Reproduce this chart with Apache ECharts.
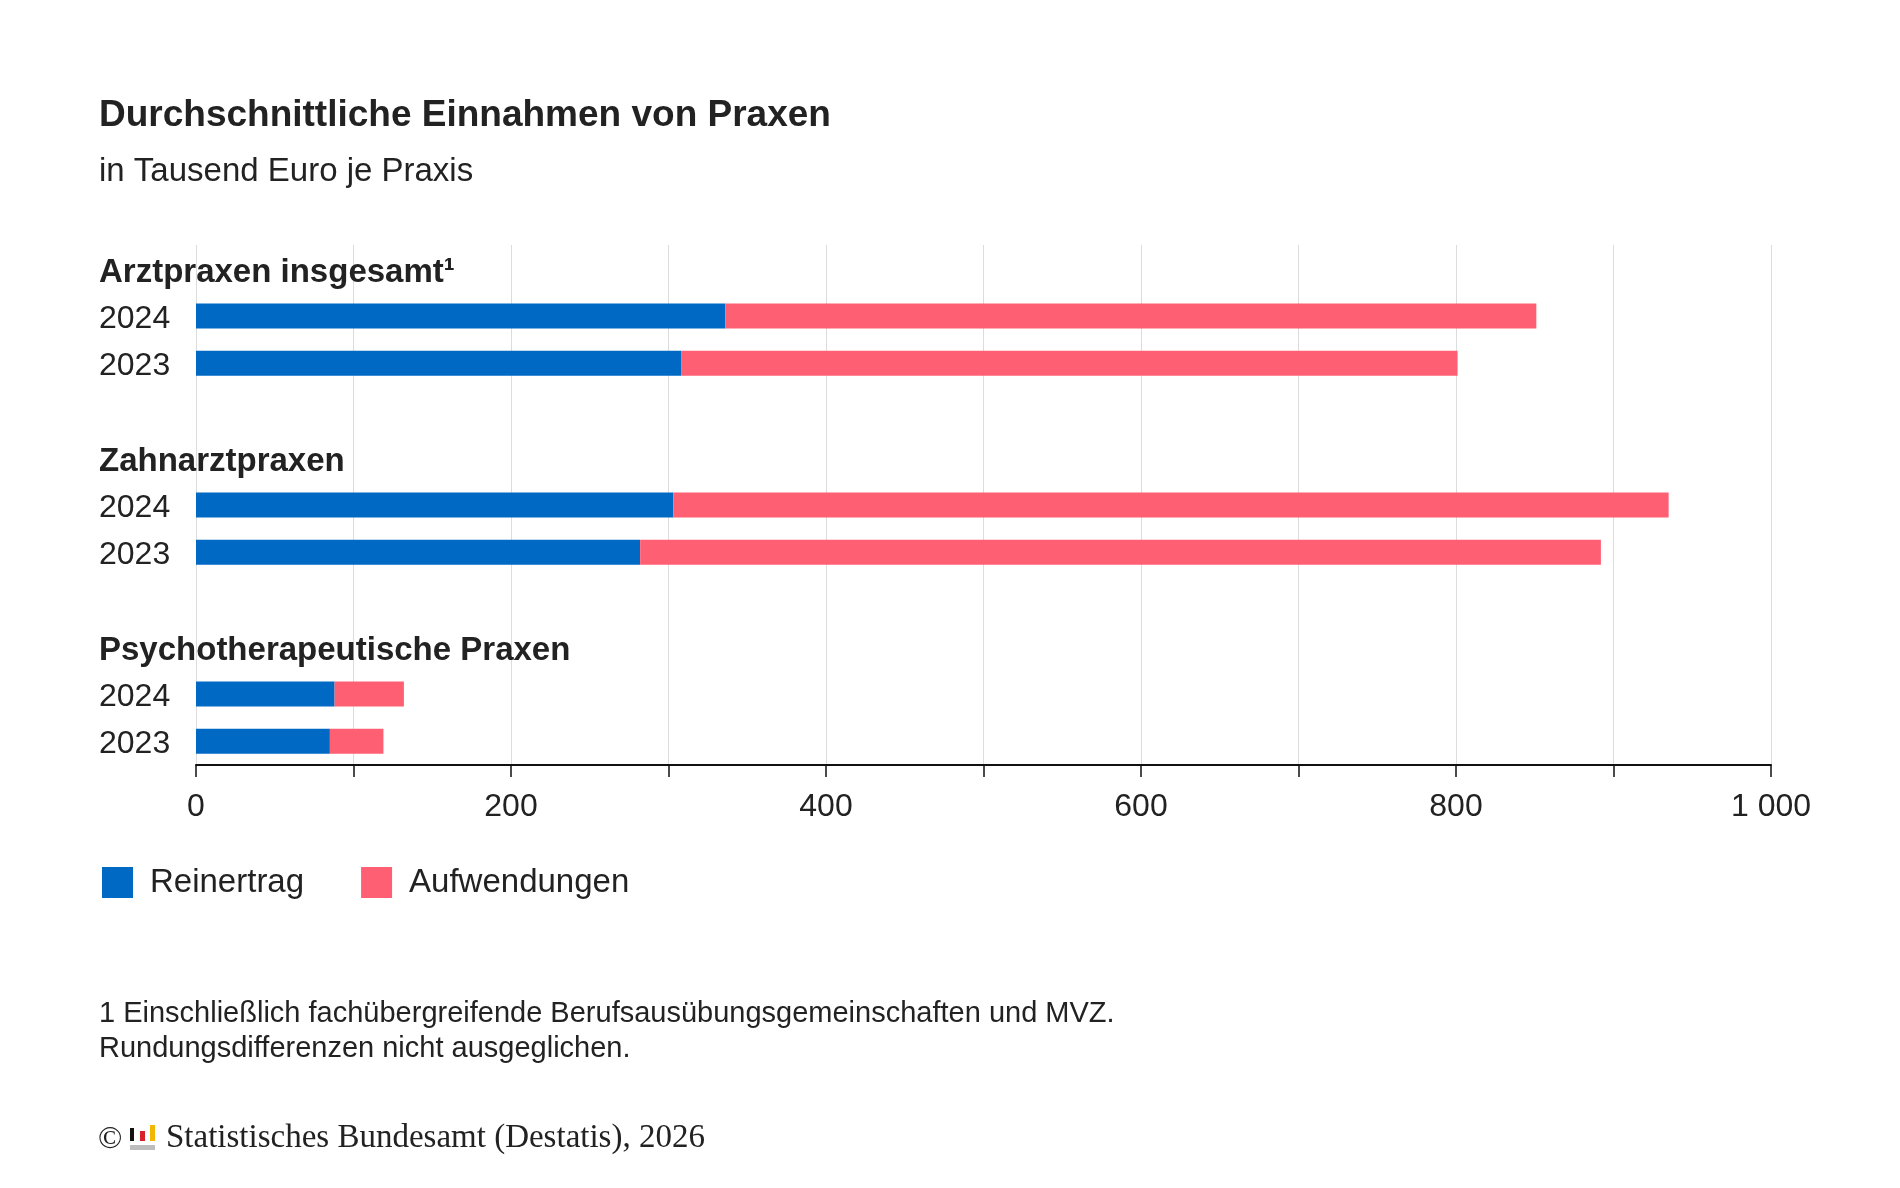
<!DOCTYPE html>
<html>
<head>
<meta charset="utf-8">
<title>Durchschnittliche Einnahmen von Praxen</title>
<script src="https://cdn.jsdelivr.net/npm/echarts@6/dist/echarts.min.js"></script>
<style>
    html, body { margin: 0; padding: 0; background: #fff; }
    #chart { width: 1900px; height: 1188px; }
</style>
</head>
<body>
<div id="chart"></div>
<script>
    // Daten (Tausend Euro je Praxis)
    const groups = ['Arztpraxen insgesamt¹', 'Zahnarztpraxen', 'Psychotherapeutische Praxen']
    const years = ['2024', '2023']
    // je Gruppe: [2024, 2023]
    const reinertrag = [[336, 308], [303, 282], [88, 85]]
    const aufwendungen = [[515, 493], [632, 610], [44, 34]]
    const xTicks = [0, 200, 400, 600, 800, 1000]

    const textColor = '#222'
    const blue = '#0069c4'
    const pink = '#ff5f73'

    // Zeilen der Kategorieachse: Überschrift, 2024, 2023, Leerzeile
    let rowLabels = []
    let rowHeader = []
    let rowReinertrag = []
    let rowAufwendungen = []
    groups.forEach(function (g, gi) {
        if (gi > 0) {
            rowLabels.push('')
            rowHeader.push(false)
            rowReinertrag.push('-')
            rowAufwendungen.push('-')
        }
        rowLabels.push(g)
        rowHeader.push(true)
        rowReinertrag.push('-')
        rowAufwendungen.push('-')
        years.forEach(function (y, yi) {
            rowLabels.push(y)
            rowHeader.push(false)
            rowReinertrag.push(reinertrag[gi][yi])
            rowAufwendungen.push(aufwendungen[gi][yi])
        })
    })
    const rowKeys = rowLabels.map(function (l, i) { return 'row' + i })

    function fmtNumber(v) {
        return String(v).replace(/\B(?=(\d{3})+(?!\d))/g, ' ')
    }

    const chart = echarts.init(document.getElementById('chart'))

    const option = {
        backgroundColor: '#fff',
        textStyle: {
            fontFamily: '"Liberation Sans", Arial, sans-serif',
            color: textColor
        },
        title: [
            {
                text: 'Durchschnittliche Einnahmen von Praxen',
                left: 94,
                top: 92,
                textStyle: {fontSize: 37, fontWeight: 'bold', color: textColor, lineHeight: 37}
            },
            {
                text: 'in Tausend Euro je Praxis',
                left: 94,
                top: 150,
                textStyle: {fontSize: 33, fontWeight: 'normal', color: textColor, lineHeight: 33}
            },
            {
                text: '1 Einschließlich fachübergreifende Berufsausübungsgemeinschaften und MVZ.\nRundungsdifferenzen nicht ausgeglichen.',
                left: 94,
                top: 991,
                textStyle: {fontSize: 29, fontWeight: 'normal', color: textColor, lineHeight: 35}
            }
        ],
        legend: {
            left: 97,
            top: 861,
            icon: 'rect',
            itemWidth: 31,
            itemHeight: 31,
            itemGap: 57,
            textStyle: {fontSize: 33, color: textColor, padding: [0, 0, 0, 12]},
            data: ['Reinertrag', 'Aufwendungen']
        },
        grid: {
            left: 196,
            right: 129,
            top: 245,
            bottom: 423,
            containLabel: false
        },
        xAxis: {
            type: 'value',
            min: 0,
            max: 1000,
            interval: 100,
            axisLine: {show: true, lineStyle: {color: '#111', width: 2}},
            axisTick: {show: true, length: 12, lineStyle: {color: '#111', width: 1.5}},
            axisLabel: {
                fontSize: 32,
                color: textColor,
                margin: 26,
                formatter: function (v) {
                    return xTicks.indexOf(v) >= 0 ? fmtNumber(v) : ''
                }
            },
            splitLine: {show: true, lineStyle: {color: '#dcdcdc', width: 1}}
        },
        yAxis: {
            type: 'category',
            inverse: true,
            data: rowKeys,
            axisLine: {show: false},
            axisTick: {show: false},
            splitLine: {show: false},
            axisLabel: {
                align: 'left',
                margin: 97,
                interval: 0,
                fontSize: 32,
                color: textColor,
                formatter: function (v, i) {
                    if (!rowLabels[i]) return ''
                    return rowHeader[i] ? '{h|' + rowLabels[i] + '}' : '{y|' + rowLabels[i] + '}'
                },
                rich: {
                    h: {fontSize: 33, fontWeight: 'bold', color: textColor, padding: [8, 0, 0, 0]},
                    y: {fontSize: 32, color: textColor, padding: [6, 0, 0, 0]}
                }
            }
        },
        series: [
            {
                name: 'Reinertrag',
                type: 'bar',
                stack: 'total',
                barWidth: 25,
                itemStyle: {color: blue},
                data: rowReinertrag
            },
            {
                name: 'Aufwendungen',
                type: 'bar',
                stack: 'total',
                barWidth: 25,
                itemStyle: {color: pink},
                data: rowAufwendungen
            }
        ],
        graphic: [
            {
                type: 'text',
                left: 98,
                top: 1124,
                style: {text: '©', font: '32px "Liberation Serif", "Times New Roman", serif', fill: textColor}
            },
            {type: 'rect', left: 130, top: 1128, shape: {width: 4, height: 13}, style: {fill: '#111'}},
            {type: 'rect', left: 140, top: 1131, shape: {width: 5, height: 10}, style: {fill: '#d9212b'}},
            {type: 'rect', left: 150, top: 1125, shape: {width: 5, height: 16}, style: {fill: '#f2b705'}},
            {type: 'rect', left: 130, top: 1145, shape: {width: 25, height: 5}, style: {fill: '#bdbdbd'}},
            {
                type: 'text',
                left: 166,
                top: 1122,
                style: {
                    text: 'Statistisches Bundesamt (Destatis), 2026',
                    font: '33px "Liberation Serif", "Times New Roman", serif',
                    fill: textColor
                }
            }
        ]
    }

    option && chart.setOption(option)
</script>
</body>
</html>
